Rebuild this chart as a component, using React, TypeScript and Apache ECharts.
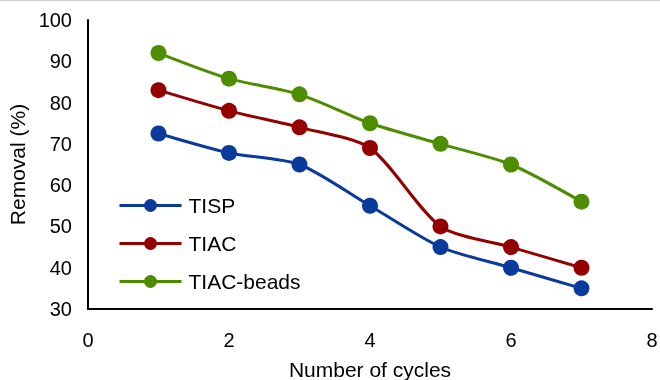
import React, { useEffect, useRef } from "react";
import * as echarts from "echarts";

const cycles = [1, 2, 3, 4, 5, 6, 7];
const tisp = [72.5, 67.8, 65, 55, 45, 40, 35];
const tiac = [83, 78, 74, 69, 50, 45, 40];
const tiacBeads = [92, 85.8, 82, 75, 70, 65, 56];
const seriesNames = ["TISP", "TIAC", "TIAC-beads"];
const seriesColors = ["#0a3a9c", "#940000", "#4e8c00"];

export default function App() {
  const ref = useRef<HTMLDivElement>(null);
  useEffect(() => {
    if (!ref.current) return;
    const chart = echarts.init(ref.current, undefined, { renderer: "svg" });
    const font = "'Liberation Sans', Arial, Helvetica, sans-serif";
    const datasets = [tisp, tiac, tiacBeads];
    chart.setOption({
      animation: false,
      textStyle: { fontFamily: font },
      graphic: [
        { type: "line", shape: { x1: 0, y1: 0.5, x2: 660, y2: 0.5 }, style: { stroke: "#d4d4d4", lineWidth: 1.5 } },
      ],
      grid: { left: 88, right: 8, top: 20, bottom: 71, containLabel: false, outerBoundsMode: "none" },
      legend: {
        orient: "vertical",
        left: 113,
        top: 190,
        itemWidth: 62,
        itemHeight: 16,
        itemGap: 17,
        data: seriesNames,
        lineStyle: { width: 3 },
        textStyle: { fontSize: 21, color: "#000", fontFamily: font, padding: [0, 0, 0, 2] },
      },
      xAxis: {
        type: "value",
        min: 0,
        max: 8,
        interval: 2,
        name: "Number of cycles",
        nameLocation: "middle",
        nameGap: 50,
        nameTextStyle: { fontSize: 21, color: "#000", fontFamily: font },
        axisLine: { lineStyle: { color: "#000", width: 2 } },
        axisTick: { show: false },
        splitLine: { show: false },
        axisLabel: { fontSize: 20, color: "#000", margin: 21, fontFamily: font },
      },
      yAxis: {
        type: "value",
        min: 30,
        max: 100,
        interval: 10,
        name: "Removal (%)",
        nameLocation: "middle",
        nameGap: 51,
        nameTextStyle: { fontSize: 21, color: "#000", fontFamily: font },
        axisLine: { show: true, lineStyle: { color: "#000", width: 2 } },
        axisTick: { show: false },
        splitLine: { show: false },
        axisLabel: { fontSize: 20, color: "#000", margin: 16, fontFamily: font },
      },
      series: seriesNames.map((name, i) => ({
        name,
        type: "line",
        smooth: 0.25,
        symbol: "circle",
        symbolSize: 16,
        data: cycles.map((c, j) => [c, datasets[i][j]]),
        lineStyle: { color: seriesColors[i], width: 3 },
        itemStyle: { color: seriesColors[i] },
      })),
    });
    return () => chart.dispose();
  }, []);
  return <div ref={ref} style={{ position: "fixed", left: 0, top: 0, width: 660, height: 380 }} />;
}
